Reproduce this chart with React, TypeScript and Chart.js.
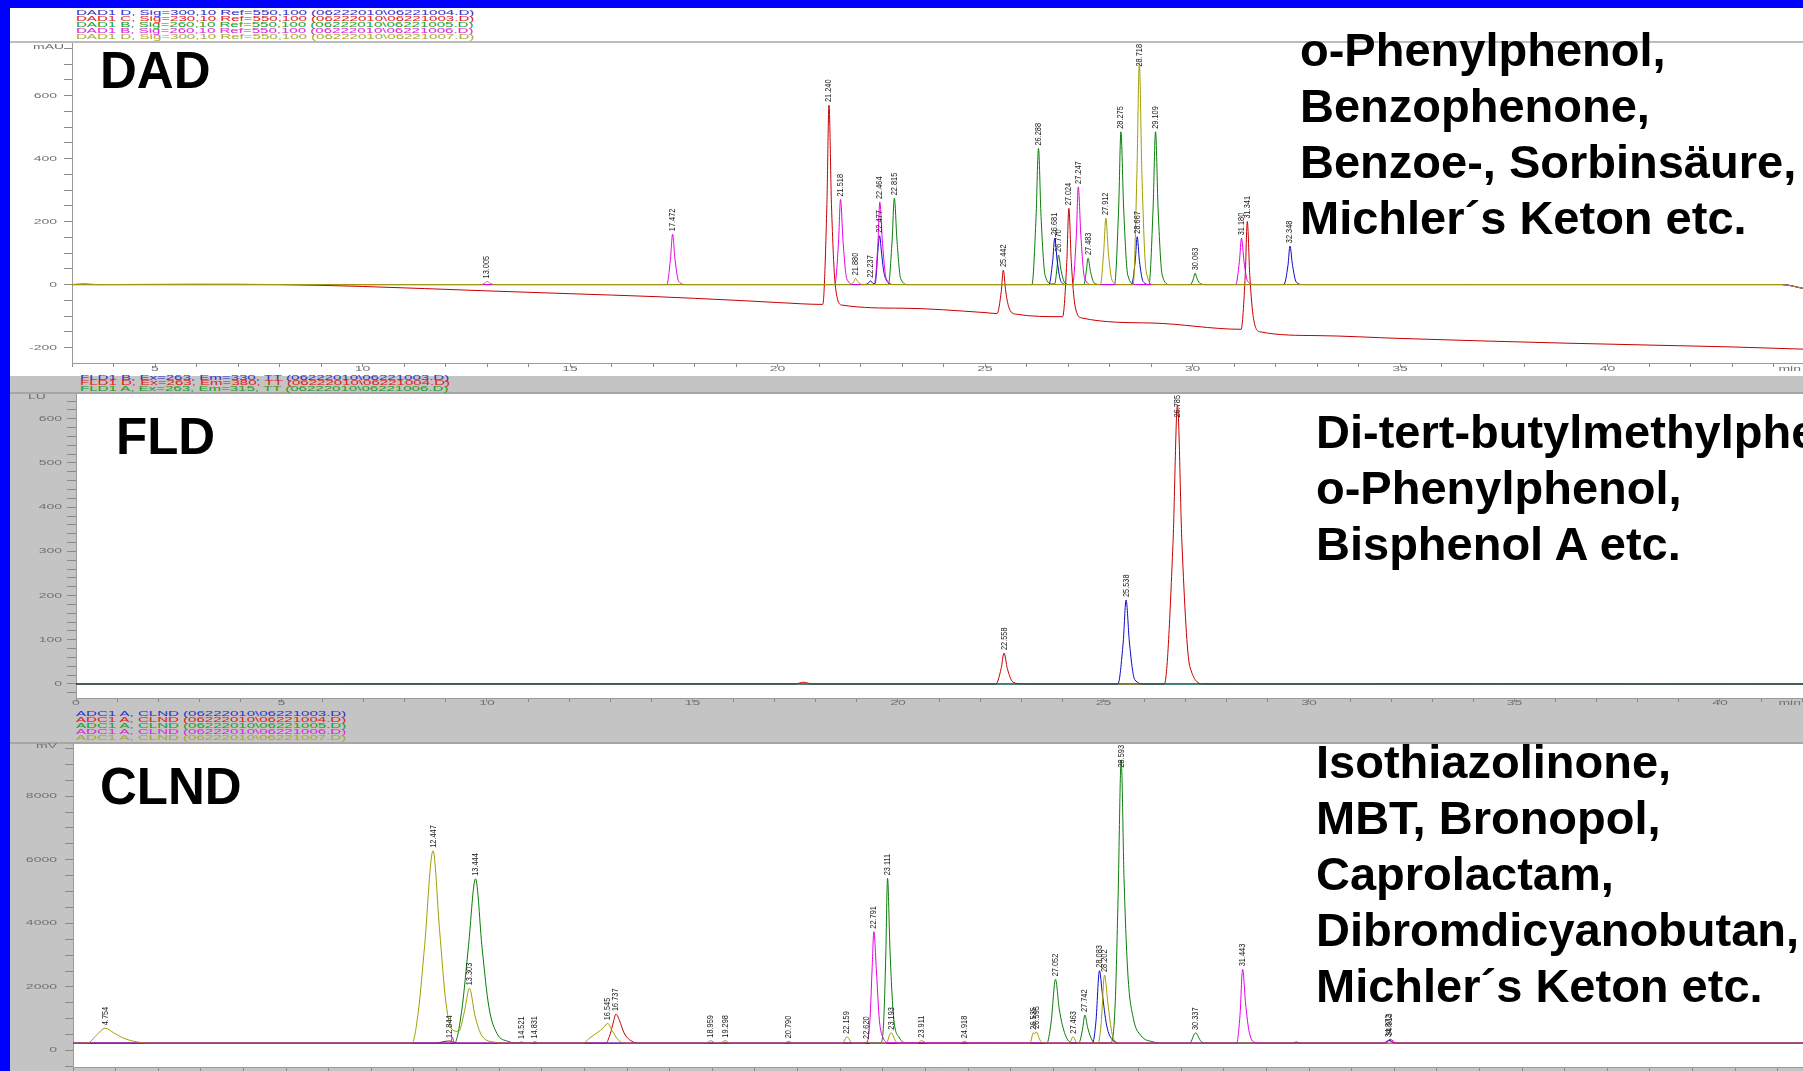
import React, { useEffect, useRef } from "react";
import { Chart, registerables } from "chart.js";
Chart.register(...registerables);

type Pt = [number, number];
type PeakLabel = [number, number, string];

// ---------------- DAD (mAU vs min) ----------------
const DAD_BLUE: Pt[] = [
  [3, 0], [22.1, 0], [22.2, 6], [22.24, 12], [22.29, 5], [22.35, 3],
  [22.38, 30], [22.42, 110], [22.46, 155], [22.5, 110], [22.55, 50], [22.62, 15], [22.8, 0],
  [26.54, 0], [26.63, 74], [26.68, 147], [26.74, 74], [26.83, 10], [26.98, 0],
  [28.53, 0], [28.62, 76], [28.667, 152], [28.72, 76], [28.81, 10], [28.97, 0],
  [32.2, 0], [32.3, 61], [32.348, 122], [32.41, 61], [32.5, 8], [32.66, 0],
  [44.2, 0], [44.71, -12],
];
const DAD_RED: Pt[] = [
  [3, 0], [3.3, 2], [3.6, 0], [6, 1], [8, 0], [10, -6], [13, -20], [15, -29], [17, -38], [19, -50], [20, -57],
  [21.09, -63], [21.19, 254], [21.24, 570], [21.3, 254], [21.39, 1], [21.55, -65],
  [23, -75], [25, -89],
  [25.29, -92], [25.39, -23], [25.44, 46], [25.5, -23], [25.59, -78], [25.75, -94],
  [26.87, -102], [26.97, 70], [27.02, 242], [27.08, 70], [27.17, -68], [27.33, -106],
  [29, -122],
  [31.17, -142], [31.27, 29], [31.32, 200], [31.38, 29], [31.47, -108], [31.63, -150],
  [33, -162], [35, -171], [37, -179], [39, -186], [41, -192], [43, -198], [44.71, -205],
];
const DAD_GREEN: Pt[] = [
  [3, 0],
  [22.67, 0], [22.76, 137], [22.815, 274], [22.88, 137], [22.97, 18], [23.15, 0],
  [26.13, 0], [26.23, 216], [26.288, 432], [26.35, 216], [26.45, 28], [26.62, 2],
  [26.68, 2], [26.73, 47], [26.77, 94], [26.83, 47], [26.92, 6], [27.05, 0],
  [27.38, 0], [27.44, 42], [27.483, 84], [27.54, 42], [27.63, 5], [27.78, 0],
  [28.12, 0], [28.22, 243], [28.275, 485], [28.34, 243], [28.44, 30], [28.62, 0],
  [28.95, 0], [29.05, 243], [29.109, 485], [29.17, 243], [29.27, 30], [29.45, 0],
  [29.95, 0], [30.02, 18], [30.063, 36], [30.11, 18], [30.2, 2], [30.3, 0],
  [44.2, 0], [44.71, -12],
];
const DAD_MAGENTA: Pt[] = [
  [3, 0],
  [17.33, 0], [17.42, 80], [17.472, 160], [17.53, 80], [17.62, 10], [17.8, 0],
  [21.38, 0], [21.47, 135], [21.518, 270], [21.58, 135], [21.67, 18], [21.85, 0],
  [22.33, 0], [22.42, 131], [22.464, 262], [22.53, 131], [22.62, 18], [22.8, 0],
  [27.11, 0], [27.2, 155], [27.247, 310], [27.31, 155], [27.4, 20], [27.58, 0],
  [31.04, 0], [31.13, 74], [31.18, 147], [31.24, 74], [31.33, 10], [31.5, 0],
  [44.2, 0], [44.71, -12],
];
const DAD_OLIVE: Pt[] = [
  [3, 0],
  [12.85, 0], [12.95, 5], [13.0, 10], [13.06, 5], [13.18, 0],
  [21.76, 0], [21.84, 10], [21.88, 20], [21.93, 10], [22.02, 1], [22.12, 0],
  [27.78, 0], [27.86, 105], [27.912, 211], [27.97, 105], [28.06, 14], [28.2, 0],
  [28.57, 0], [28.66, 352], [28.718, 703], [28.78, 352], [28.88, 45], [29.06, 0],
  [44.2, 0], [44.71, -12],
];
const DAD_PEAKS: PeakLabel[] = [
  [13.0, 10, "13.005"], [17.472, 160, "17.472"], [21.24, 570, "21.240"], [21.518, 270, "21.518"],
  [21.88, 20, "21.880"], [22.24, 12, "22.237"], [22.464, 262, "22.464"], [22.46, 155, "22.477"],
  [22.815, 274, "22.815"], [25.44, 46, "25.442"], [26.288, 432, "26.288"], [26.68, 147, "26.681"],
  [26.77, 94, "26.770"], [27.02, 242, "27.024"], [27.247, 310, "27.247"], [27.483, 84, "27.483"],
  [27.912, 211, "27.912"], [28.275, 485, "28.275"], [28.667, 152, "28.667"], [28.718, 703, "28.718"],
  [29.109, 485, "29.109"], [30.063, 36, "30.063"], [31.18, 147, "31.180"], [31.32, 200, "31.341"],
  [32.348, 122, "32.348"],
];
const DAD_X_LABELS = [5, 10, 15, 20, 25, 30, 35, 40];
const DAD_Y_LABELS = [-200, 0, 200, 400, 600];
const DAD_LEGEND = [
  "DAD1 D, Sig=300,10 Ref=550,100 (06222010\\06221004.D)",
  "DAD1 C, Sig=230,10 Ref=550,100 (06222010\\06221003.D)",
  "DAD1 B, Sig=260,10 Ref=550,100 (06222010\\06221005.D)",
  "DAD1 B, Sig=260,10 Ref=550,100 (06222010\\06221006.D)",
  "DAD1 D, Sig=300,10 Ref=550,100 (06222010\\06221007.D)",
];

// ---------------- FLD (LU vs min) ----------------
const FLD_BLUE: Pt[] = [
  [0, 0], [25.35, 0], [25.48, 95], [25.55, 190], [25.63, 95], [25.76, 10], [26.0, 0], [42.02, 0],
];
const FLD_RED: Pt[] = [
  [0, 0], [17.5, 0], [17.7, 4], [17.9, 0],
  [22.38, 0], [22.51, 35], [22.58, 70], [22.66, 35], [22.8, 4], [23.05, 0],
  [26.48, 0], [26.69, 315], [26.8, 631], [26.91, 315], [27.1, 40], [27.45, 0],
  [42.02, 0],
];
const FLD_GREEN: Pt[] = [[0, 0], [42.02, 0]];
const FLD_PEAKS: PeakLabel[] = [[22.58, 70, "22.558"], [25.55, 190, "25.538"], [26.8, 631, "26.785"]];
const FLD_X_LABELS = [0, 5, 10, 15, 20, 25, 30, 35, 40];
const FLD_Y_LABELS = [0, 100, 200, 300, 400, 500, 600];
const FLD_LEGEND = [
  "FLD1 B, Ex=263, Em=330, TT (06222010\\06221003.D)",
  "FLD1 D, Ex=263, Em=380, TT (06222010\\06221004.D)",
  "FLD1 A, Ex=263, Em=315, TT (06222010\\06221006.D)",
];

// ---------------- CLND (mV vs min) ----------------
const CLND_BLUE: Pt[] = [
  [4, 230], [27.92, 230], [28.0, 900], [28.083, 2510], [28.15, 1800], [28.25, 800], [28.4, 320], [28.6, 230],
  [34.8, 230], [34.9, 330], [35.0, 230], [44.59, 230],
];
const CLND_RED: Pt[] = [
  [4, 230], [12.5, 230], [12.7, 280], [12.844, 300], [12.95, 250], [13.1, 230],
  [16.5, 230], [16.6, 500], [16.68, 900], [16.737, 1148], [16.82, 950], [16.93, 550], [17.1, 300], [17.3, 230],
  [34.75, 230], [34.87, 320], [35.0, 230], [44.59, 230],
];
const CLND_GREEN: Pt[] = [
  [4, 230], [12.95, 230], [13.12, 1250], [13.28, 3300], [13.444, 5400], [13.6, 3200], [13.76, 1350], [13.95, 530],
  [14.2, 290], [14.45, 235], [14.52, 270], [14.6, 230],
  [22.95, 230], [23.02, 900], [23.07, 3000], [23.111, 5415], [23.17, 3100], [23.25, 1100], [23.38, 420], [23.6, 230],
  [26.85, 230], [26.95, 900], [27.052, 2239], [27.14, 1300], [27.28, 500], [27.45, 240],
  [27.6, 240], [27.68, 620], [27.742, 1116], [27.81, 700], [27.92, 300], [28.0, 240],
  [28.35, 240], [28.45, 1400], [28.52, 4800], [28.593, 9136], [28.66, 5400], [28.75, 2400], [28.88, 1000],
  [29.05, 480], [29.35, 270], [29.6, 230],
  [30.2, 230], [30.337, 550], [30.47, 280], [30.6, 230],
  [32.6, 230], [32.7, 270], [32.8, 230], [44.59, 230],
];
const CLND_MAGENTA: Pt[] = [
  [4, 230], [12.86, 230], [12.9, 420], [12.95, 230],
  [22.62, 230], [22.7, 1000], [22.75, 2600], [22.791, 3737], [22.85, 2500], [22.92, 950], [23.0, 420], [23.15, 240],
  [31.3, 230], [31.38, 1100], [31.443, 2553], [31.51, 1500], [31.6, 560], [31.75, 250], [31.9, 230],
  [34.8, 230], [34.9, 360], [35.05, 230], [44.59, 230],
];
const CLND_OLIVE: Pt[] = [
  [4, 230], [4.35, 240], [4.55, 480], [4.754, 700], [4.95, 560], [5.2, 380], [5.6, 250], [5.9, 230],
  [11.95, 230], [12.1, 1200], [12.25, 3300], [12.447, 6280], [12.6, 3800], [12.75, 1500], [12.9, 650],
  [13.05, 600], [13.18, 1200], [13.303, 1955], [13.43, 1100], [13.6, 450], [13.9, 260], [14.2, 230],
  [14.75, 230], [14.831, 280], [14.95, 230],
  [15.95, 230], [16.15, 420], [16.3, 560], [16.45, 720], [16.545, 855], [16.65, 620], [16.8, 320], [16.95, 230],
  [18.85, 230], [18.959, 310], [19.08, 235], [19.2, 235], [19.298, 310], [19.42, 230],
  [20.68, 230], [20.79, 290], [20.9, 230],
  [22.05, 230], [22.159, 430], [22.28, 240], [22.55, 230], [22.62, 270], [22.7, 230],
  [23.08, 230], [23.193, 560], [23.32, 260], [23.45, 230],
  [23.8, 230], [23.911, 310], [24.03, 230], [24.8, 230], [24.918, 290], [25.03, 230],
  [26.45, 230], [26.535, 560], [26.56, 520], [26.595, 590], [26.7, 300], [26.8, 240],
  [27.38, 230], [27.463, 434], [27.56, 240],
  [28.05, 230], [28.12, 800], [28.202, 2374], [28.28, 1500], [28.38, 520], [28.5, 250], [28.6, 230],
  [44.59, 230],
];
const CLND_PEAKS: PeakLabel[] = [
  [4.754, 700, "4.754"], [12.447, 6280, "12.447"], [12.844, 300, "12.844"], [13.303, 1955, "13.303"],
  [13.444, 5400, "13.444"], [14.521, 270, "14.521"], [14.831, 280, "14.831"], [16.545, 855, "16.545"],
  [16.737, 1148, "16.737"], [18.959, 310, "18.959"], [19.298, 310, "19.298"], [20.79, 290, "20.790"],
  [22.159, 430, "22.159"], [22.62, 270, "22.620"], [22.791, 3737, "22.791"], [23.111, 5415, "23.111"],
  [23.193, 560, "23.193"], [23.911, 310, "23.911"], [24.918, 290, "24.918"], [26.535, 560, "26.535"],
  [26.595, 590, "26.595"], [27.052, 2239, "27.052"], [27.463, 434, "27.463"], [27.742, 1116, "27.742"],
  [28.083, 2510, "28.083"], [28.202, 2374, "28.202"], [28.593, 9136, "28.593"], [30.337, 550, "30.337"],
  [31.443, 2553, "31.443"], [34.87, 320, "34.872"], [34.9, 360, "34.913"],
];
const CLND_X_LABELS = [5, 10, 15, 20, 25, 30, 35, 40];
const CLND_Y_LABELS = [0, 2000, 4000, 6000, 8000];
const CLND_LEGEND = [
  "ADC1 A, CLND (06222010\\06221003.D)",
  "ADC1 A, CLND (06222010\\06221004.D)",
  "ADC1 A, CLND (06222010\\06221005.D)",
  "ADC1 A, CLND (06222010\\06221006.D)",
  "ADC1 A, CLND (06222010\\06221007.D)",
];

const DAD_NOTE = ["o-Phenylphenol,", "Benzophenone,", "Benzoe-, Sorbinsäure,", "Michler´s Keton etc."];
const FLD_NOTE = ["Di-tert-butylmethylphenol,", "o-Phenylphenol,", "Bisphenol A etc."];
const CLND_NOTE = ["Isothiazolinone,", "MBT, Bronopol,", "Caprolactam,", "Dibromdicyanobutan,", "Michler´s Keton etc."];

const LINE = { blue: "#0c0cc8", red: "#c80000", green: "#0a7d0a", magenta: "#e600e6", olive: "#a39e00" };
const LEG = ["#3030d0", "#e02020", "#20a020", "#e020e0", "#a8a830"];

function range(a: number, b: number, s: number): number[] {
  const r: number[] = [];
  for (let v = a; v <= b + 1e-9; v += s) r.push(Math.round(v * 1000) / 1000);
  return r;
}

interface SeriesCfg { color: string; data: Pt[]; order: number }
interface PanelCfg {
  series: SeriesCfg[];
  xMin: number; xMax: number; yMin: number; yMax: number;
  xTicks: number[]; yTicks: number[]; xLabels: number[]; yLabels: number[];
  yW: number; xH: number; yGap: number; xGap: number; yTickLen: number;
  peaks: PeakLabel[]; showMin: boolean;
}

const DAD_CFG: PanelCfg = {
  series: [
    { color: LINE.blue, data: DAD_BLUE, order: 3 },
    { color: LINE.red, data: DAD_RED, order: 2 },
    { color: LINE.green, data: DAD_GREEN, order: 4 },
    { color: LINE.magenta, data: DAD_MAGENTA, order: 1 },
    { color: LINE.olive, data: DAD_OLIVE, order: 0 },
  ],
  xMin: 3, xMax: 44.71, yMin: -249, yMax: 767,
  xTicks: range(3, 44, 1), yTicks: range(-200, 750, 50),
  xLabels: DAD_X_LABELS, yLabels: DAD_Y_LABELS,
  yW: 62, xH: 13, yGap: 15, xGap: 6, yTickLen: 8, peaks: DAD_PEAKS, showMin: true,
};
const FLD_CFG: PanelCfg = {
  series: [
    { color: LINE.blue, data: FLD_BLUE, order: 1 },
    { color: LINE.red, data: FLD_RED, order: 2 },
    { color: LINE.green, data: FLD_GREEN, order: 0 },
  ],
  xMin: 0, xMax: 42.02, yMin: -31.7, yMax: 656,
  xTicks: range(0, 42, 1), yTicks: range(-20, 640, 20),
  xLabels: FLD_X_LABELS, yLabels: FLD_Y_LABELS,
  yW: 66, xH: 14, yGap: 14, xGap: 5, yTickLen: 9, peaks: FLD_PEAKS, showMin: true,
};
const CLND_CFG: PanelCfg = {
  series: [
    { color: LINE.blue, data: CLND_BLUE, order: 2 },
    { color: LINE.red, data: CLND_RED, order: 3 },
    { color: LINE.green, data: CLND_GREEN, order: 4 },
    { color: LINE.magenta, data: CLND_MAGENTA, order: 0 },
    { color: LINE.olive, data: CLND_OLIVE, order: 1 },
  ],
  xMin: 4, xMax: 44.59, yMin: -519, yMax: 9639,
  xTicks: range(4, 44, 1), yTicks: range(-500, 9500, 500),
  xLabels: CLND_X_LABELS, yLabels: CLND_Y_LABELS,
  yW: 63, xH: 4, yGap: 16, xGap: 7, yTickLen: 8, peaks: CLND_PEAKS, showMin: false,
};

function ChartCanvas(props: { cfg: PanelCfg; left: number; top: number; width: number; height: number }) {
  const { cfg, left, top, width, height } = props;
  const ref = useRef<HTMLCanvasElement | null>(null);
  useEffect(() => {
    const canvas = ref.current;
    if (!canvas) return;
    const deco = {
      id: "panelDeco",
      beforeDatasetsDraw(chart: any) {
        const { ctx, chartArea: a } = chart;
        ctx.save();
        ctx.globalCompositeOperation = "destination-over";
        ctx.fillStyle = "#ffffff";
        ctx.fillRect(a.left, a.top, a.right - a.left, a.bottom - a.top);
        ctx.restore();
      },
      afterDraw(chart: any) {
        const { ctx, chartArea: a } = chart;
        const x = chart.scales.x;
        const y = chart.scales.y;
        ctx.save();
        ctx.fillStyle = "#707070";
        ctx.font = "7px Arial, 'Liberation Sans', sans-serif";
        ctx.textBaseline = "middle";
        for (const v of cfg.yLabels) {
          const py = y.getPixelForValue(v);
          ctx.save();
          ctx.translate(a.left - cfg.yGap, py);
          ctx.scale(2, 1);
          ctx.textAlign = "right";
          ctx.fillText(String(v), 0, 0);
          ctx.restore();
        }
        for (const v of cfg.xLabels) {
          const px = x.getPixelForValue(v);
          ctx.save();
          ctx.translate(px, a.bottom + cfg.xGap);
          ctx.scale(2, 1);
          ctx.textAlign = "center";
          ctx.fillText(String(v), 0, 0);
          ctx.restore();
        }
        if (cfg.showMin) {
          ctx.save();
          ctx.translate(chart.width - 2, a.bottom + cfg.xGap);
          ctx.scale(2, 1);
          ctx.textAlign = "right";
          ctx.fillText("min", 0, 0);
          ctx.restore();
        }
        ctx.fillStyle = "#1a1a1a";
        ctx.font = "9px Arial, 'Liberation Sans', sans-serif";
        ctx.textAlign = "left";
        ctx.textBaseline = "middle";
        const sx = 0.82;
        for (const [t, v, txt] of cfg.peaks) {
          const px = x.getPixelForValue(t);
          const py = y.getPixelForValue(v);
          const len = ctx.measureText(txt).width * sx;
          const start = Math.max(py - 3, a.top + len + 1);
          ctx.save();
          ctx.translate(px, start);
          ctx.rotate(-Math.PI / 2);
          ctx.scale(sx, 1);
          ctx.fillText(txt, 0, 0);
          ctx.restore();
        }
        ctx.restore();
      },
    };
    const chart = new Chart(canvas, {
      type: "line",
      data: {
        datasets: cfg.series.map((s) => ({
          data: s.data.map(([px, py]) => ({ x: px, y: py })),
          borderColor: s.color,
          borderWidth: 1,
          pointRadius: 0,
          fill: false,
          cubicInterpolationMode: "monotone",
          order: s.order,
        })),
      },
      options: {
        animation: false,
        responsive: false,
        maintainAspectRatio: false,
        events: [],
        layout: { padding: 0 },
        plugins: { legend: { display: false }, tooltip: { enabled: false } },
        scales: {
          x: {
            type: "linear",
            min: cfg.xMin,
            max: cfg.xMax,
            ticks: { display: false },
            grid: { drawOnChartArea: false, drawTicks: true, tickLength: 4, color: "#8a8a8a" },
            border: { display: true, color: "#9a9a9a" },
            afterBuildTicks: (s: any) => { s.ticks = cfg.xTicks.map((v) => ({ value: v })); },
            afterFit: (s: any) => { s.height = cfg.xH; s.paddingLeft = 0; s.paddingRight = 0; },
          },
          y: {
            type: "linear",
            min: cfg.yMin,
            max: cfg.yMax,
            ticks: { display: false },
            grid: { drawOnChartArea: false, drawTicks: true, tickLength: cfg.yTickLen, color: "#8a8a8a" },
            border: { display: true, color: "#9a9a9a" },
            afterBuildTicks: (s: any) => { s.ticks = cfg.yTicks.map((v) => ({ value: v })); },
            afterFit: (s: any) => { s.width = cfg.yW; s.paddingTop = 0; s.paddingBottom = 0; },
          },
        },
      } as any,
      plugins: [deco],
    } as any);
    return () => chart.destroy();
  }, [cfg]);
  return (
    <canvas
      ref={ref}
      width={width}
      height={height}
      style={{ position: "absolute", left, top, width, height, display: "block" }}
    />
  );
}

const smallText = (color: string): React.CSSProperties => ({
  position: "absolute",
  fontFamily: "Arial, 'Liberation Sans', sans-serif",
  fontSize: "7px",
  lineHeight: "6px",
  whiteSpace: "pre",
  color,
  transform: "scaleX(2.15)",
  transformOrigin: "left center",
});

const unitText: React.CSSProperties = {
  position: "absolute",
  fontFamily: "Arial, 'Liberation Sans', sans-serif",
  fontSize: "7px",
  lineHeight: "6px",
  whiteSpace: "pre",
  color: "#707070",
  transform: "scaleX(2)",
  transformOrigin: "left center",
};

const bigLabel = (left: number, top: number): React.CSSProperties => ({
  position: "absolute",
  left,
  top,
  fontFamily: "Arial, 'Liberation Sans', sans-serif",
  fontWeight: "bold",
  fontSize: "51px",
  lineHeight: "51px",
  color: "#000",
  whiteSpace: "pre",
});

const note = (left: number, top: number): React.CSSProperties => ({
  position: "absolute",
  left,
  top,
  fontFamily: "Arial, 'Liberation Sans', sans-serif",
  fontWeight: "bold",
  fontSize: "47px",
  lineHeight: "56px",
  color: "#000",
  whiteSpace: "pre",
});

export default function App() {
  return (
    <div
      style={{
        position: "absolute",
        left: 0,
        top: 0,
        width: 1803,
        height: 1071,
        background: "#0000ff",
        overflow: "hidden",
      }}
    >
      <div style={{ position: "absolute", left: 10, top: 8, width: 1793, height: 368, background: "#ffffff" }} />
      <div style={{ position: "absolute", left: 10, top: 376, width: 1793, height: 695, background: "#c4c4c4" }} />
      <div style={{ position: "absolute", left: 10, top: 41, width: 1793, height: 2, background: "#bcbcbc" }} />
      <div style={{ position: "absolute", left: 10, top: 392, width: 1793, height: 2, background: "#a6a6a6" }} />
      <div style={{ position: "absolute", left: 10, top: 742, width: 1793, height: 2, background: "#a6a6a6" }} />

      {DAD_LEGEND.map((t, i) => (
        <div key={"dl" + i} style={{ ...smallText(LEG[i]), left: 76, top: 10 + i * 6 }}>{t}</div>
      ))}
      {FLD_LEGEND.map((t, i) => (
        <div key={"fl" + i} style={{ ...smallText(LEG[i]), left: 80, top: 374.5 + i * 5.75 }}>{t}</div>
      ))}
      {CLND_LEGEND.map((t, i) => (
        <div key={"cl" + i} style={{ ...smallText(LEG[i]), left: 76, top: 710.5 + i * 6.2 }}>{t}</div>
      ))}

      <ChartCanvas cfg={DAD_CFG} left={10} top={43} width={1793} height={333} />
      <ChartCanvas cfg={FLD_CFG} left={10} top={394} width={1793} height={318} />
      <ChartCanvas cfg={CLND_CFG} left={10} top={744} width={1793} height={327} />

      <div style={{ ...unitText, left: 33, top: 44 }}>mAU</div>
      <div style={{ ...unitText, left: 28, top: 394 }}>LU</div>
      <div style={{ ...unitText, left: 36, top: 743 }}>mV</div>

      <div style={bigLabel(100, 45)}>DAD</div>
      <div style={bigLabel(116, 411)}>FLD</div>
      <div style={bigLabel(100, 761)}>CLND</div>

      <div style={note(1300, 22)}>{DAD_NOTE.join("\n")}</div>
      <div style={note(1316, 404)}>{FLD_NOTE.join("\n")}</div>
      <div style={note(1316, 734)}>{CLND_NOTE.join("\n")}</div>
    </div>
  );
}
